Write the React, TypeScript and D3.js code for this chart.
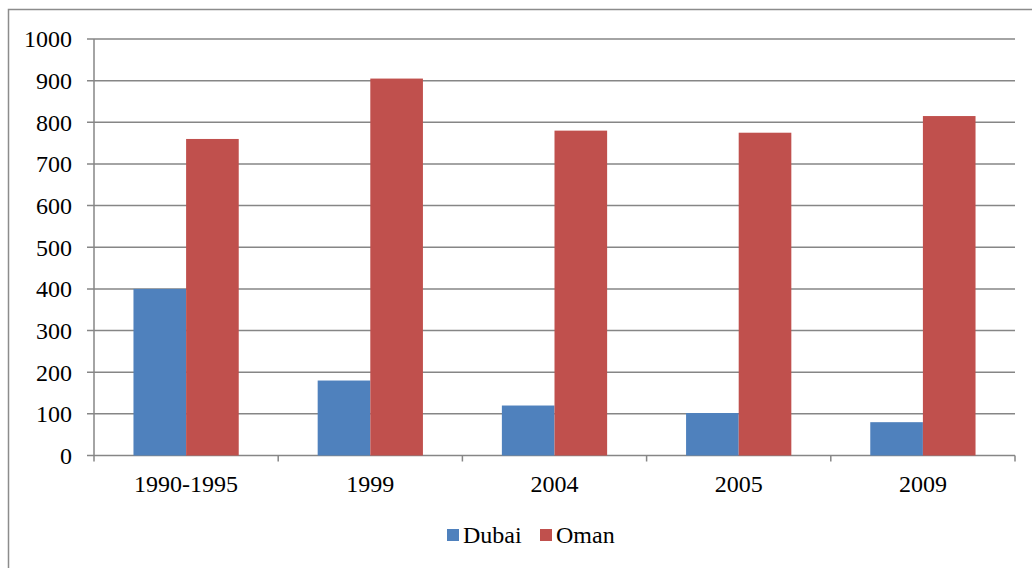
import { useEffect, useRef } from 'react';
import * as d3 from 'd3';

const categories = ['1990-1995', '1999', '2004', '2005', '2009'];
const seriesNames = ['Dubai', 'Oman'];
const dubaiValues = [400, 180, 120, 102, 80];
const omanValues = [760, 905, 780, 775, 815];
const yTicks = [0, 100, 200, 300, 400, 500, 600, 700, 800, 900, 1000];
const colors = ['#4F81BD', '#C0504D'];

const W = 1032;
const H = 568;

const App = () => {
  const ref = useRef<SVGSVGElement | null>(null);

  useEffect(() => {
    if (!ref.current) return;
    const svg = d3.select(ref.current);
    svg.selectAll('*').remove();

    const font = '"Liberation Serif", "Times New Roman", serif';
    const fontSize = 24;
    const left = 94;
    const right = 1015;
    const top = 39;
    const bottom = 455.5;

    // outer chart border (runs off the right/bottom of the frame)
    svg
      .append('rect')
      .attr('x', 8.5)
      .attr('y', 9.5)
      .attr('width', 1100)
      .attr('height', 700)
      .attr('fill', '#fff')
      .attr('stroke', '#8c8c8c')
      .attr('stroke-width', 1.5);

    const x = d3.scaleBand().domain(categories).range([left, right]).paddingInner(0).paddingOuter(0);
    const inner = d3
      .scaleBand()
      .domain(seriesNames)
      .range([0, x.bandwidth()])
      .paddingInner(0)
      .paddingOuter(0.75);
    const y = d3.scaleLinear().domain([0, 1000]).range([bottom, top]);

    const g = svg.append('g');

    // gridlines + left ticks
    g.append('g')
      .selectAll('line')
      .data(yTicks)
      .enter()
      .append('line')
      .attr('x1', left - 7)
      .attr('x2', right)
      .attr('y1', (d) => y(d))
      .attr('y2', (d) => y(d))
      .attr('stroke', '#868686')
      .attr('stroke-width', 1.5);

    g.append('g')
      .selectAll('text')
      .data(yTicks)
      .enter()
      .append('text')
      .attr('x', 72)
      .attr('y', (d) => y(d))
      .attr('dy', '0.35em')
      .attr('text-anchor', 'end')
      .attr('font-family', font)
      .attr('font-size', fontSize)
      .attr('fill', '#000')
      .text((d) => String(d));

    const series = [dubaiValues, omanValues];
    series.forEach((vals, si) => {
      g.append('g')
        .selectAll('rect')
        .data(vals)
        .enter()
        .append('rect')
        .attr('x', (_, i) => (x(categories[i]) ?? 0) + (inner(seriesNames[si]) ?? 0))
        .attr('y', (d) => y(d))
        .attr('width', inner.bandwidth())
        .attr('height', (d) => y(0) - y(d))
        .attr('fill', colors[si]);
    });

    // axes lines
    g.append('line')
      .attr('x1', left)
      .attr('x2', left)
      .attr('y1', top)
      .attr('y2', bottom)
      .attr('stroke', '#868686')
      .attr('stroke-width', 1.5);

    const xTickPos = categories.map((c) => x(c) ?? 0).concat([right]);
    g.append('g')
      .selectAll('line')
      .data(xTickPos)
      .enter()
      .append('line')
      .attr('x1', (d) => d)
      .attr('x2', (d) => d)
      .attr('y1', bottom)
      .attr('y2', bottom + 6)
      .attr('stroke', '#868686')
      .attr('stroke-width', 1.5);

    g.append('g')
      .selectAll('text')
      .data(categories)
      .enter()
      .append('text')
      .attr('x', (d) => (x(d) ?? 0) + x.bandwidth() / 2)
      .attr('y', 492)
      .attr('text-anchor', 'middle')
      .attr('font-family', font)
      .attr('font-size', fontSize)
      .attr('fill', '#000')
      .text((d) => d);

    // legend
    const legendX = [447, 540];
    const legend = g.append('g');
    seriesNames.forEach((name, i) => {
      legend
        .append('rect')
        .attr('x', legendX[i])
        .attr('y', 529)
        .attr('width', 12)
        .attr('height', 12)
        .attr('fill', colors[i]);
      legend
        .append('text')
        .attr('x', legendX[i] + 16)
        .attr('y', 542.5)
        .attr('font-family', font)
        .attr('font-size', fontSize)
        .attr('fill', '#000')
        .text(name);
    });
  }, []);

  return (
    <svg
      ref={ref}
      width={W}
      height={H}
      style={{ position: 'absolute', left: 0, top: 0, display: 'block' }}
      role="img"
      aria-label="Dubai and Oman bar chart"
    />
  );
};

export default App;
